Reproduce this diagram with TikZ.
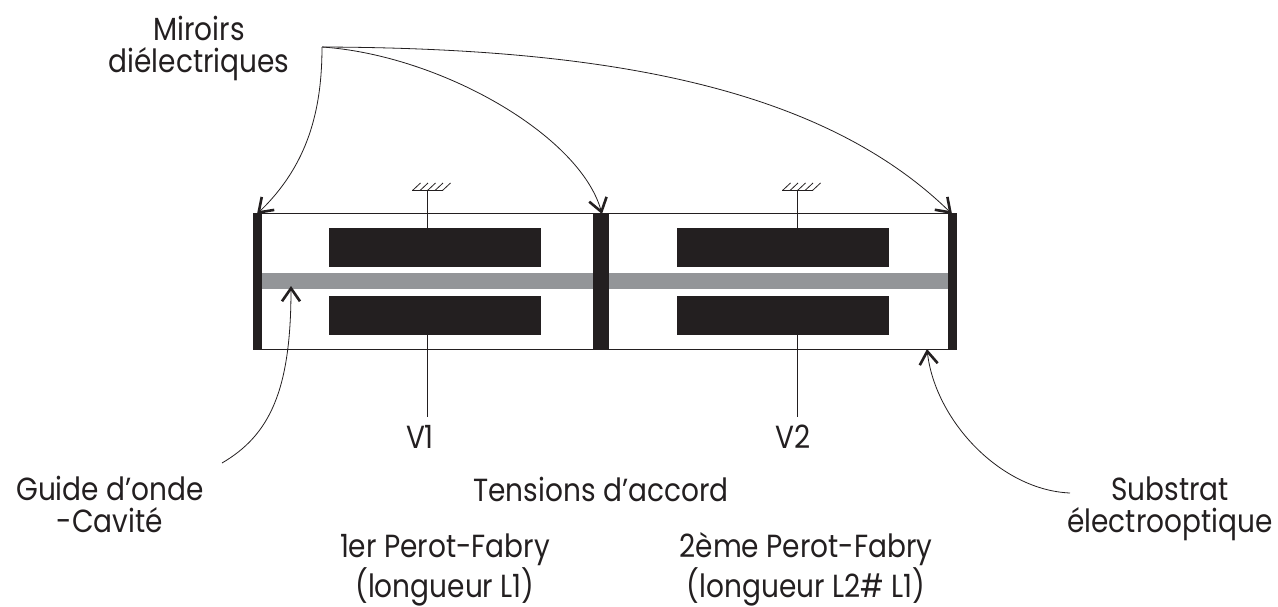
\documentclass[tikz,border=0pt]{standalone}
\usepackage{fontspec}
\setmainfont[FakeStretch=0.875]{Poppins}
\usetikzlibrary{arrows.meta}
\definecolor{ink}{HTML}{231F20}
\definecolor{guide}{HTML}{939598}
\tikzset{
 x=1pt,y=-1pt,
 txt/.style={font=\fontsize{32}{32}\selectfont,text=ink,align=center,inner sep=0pt,anchor=base},
 fillbox/.style={fill=ink,draw=none},
 thin line/.style={draw=ink,line width=0.9pt},
 call/.style={draw=ink,line width=0.8pt,-{Straight Barb[length=13pt,width=18pt,line width=2.6pt]}},
}
\newcommand{\rectnode}[6]{\node[#6,minimum width=#3pt-#1pt,minimum height=#4pt-#2pt,anchor=north west,inner sep=0pt,outer sep=0pt] (#5) at (#1,#2) {};}
\begin{document}
\begin{tikzpicture}
\useasboundingbox (0,0) rectangle (1278,606);
% substrate outline
\coordinate (tl) at (253,213); \coordinate (tr) at (957,213);
\coordinate (bl) at (253,349.5); \coordinate (br) at (957,349.5);
\draw[thin line] (tl) -- (tr);
\draw[thin line] (bl) -- (br);
% guide
\rectnode{261}{273}{594}{289}{g1}{fill=guide}
\rectnode{608}{273}{950}{289}{g2}{fill=guide}
% mirrors
\rectnode{253}{213}{262}{350}{m1}{fillbox}
\rectnode{593}{213}{609}{350}{m2}{fillbox}
\rectnode{948}{213}{957}{350}{m3}{fillbox}
% electrodes
\rectnode{329}{228}{541}{267}{e1}{fillbox}
\rectnode{329}{296}{541}{335}{e2}{fillbox}
\rectnode{677}{228}{889}{267}{e3}{fillbox}
\rectnode{677}{296}{889}{335}{e4}{fillbox}
% grounds
\coordinate (ga) at (427.5,190.5); \coordinate (gb) at (797.5,190.5);
\draw[thin line] (ga) -- (e1.north -| ga);
\draw[thin line] (gb) -- (e3.north -| gb);
\foreach \c in {ga,gb}{
 \draw[draw=ink,line width=.8pt] ([xshift=-15.5pt]\c) -- ([xshift=15.5pt]\c);
 \foreach \d in {-15,-7.5,0,7.5,15}
  \draw[draw=ink,line width=.8pt] ([xshift=\d pt]\c) -- ([xshift=\d pt+8pt,yshift=7.5pt]\c);
}
% texts
\node[txt] (mir) at (199,72) {Miroirs\\diélectriques};
\node[txt] (v1) at (420,448) {V1};
\node[txt] (v2) at (793,448) {V2};
\node[txt] (gu) at (110,532) {Guide d'onde\\-Cavité};
\node[txt] (te) at (601,501) {Tensions d'accord};
\node[txt] (su) at (1170,532) {Substrat\\électrooptique};
\node[txt] (p1) at (445,597) {1er Perot-Fabry\\(longueur L1)};
\node[txt] (p2) at (806,597) {2ème Perot-Fabry\\(longueur L2\# L1)};
% leads to voltages
\coordinate (la) at (427.5,417); \coordinate (lb) at (797.5,417);
\draw[thin line] (e2.south -| ga) -- (la);
\draw[thin line] (e4.south -| gb) -- (lb);
% callouts
\coordinate (hub) at (322,47);
\coordinate (c1) at (257,214); \coordinate (c2) at (602,214); \coordinate (c3) at (952,214);
\coordinate (c4) at (291,286); \coordinate (c5) at (927,349);
\coordinate (s4) at (222,463); \coordinate (s5) at (1070,493);
\draw[call] (hub) .. controls (322,110) and (308,165) .. (c1);
\draw[call] (hub) .. controls (440,55) and (580,135) .. (c2);
\draw[call] (hub) .. controls (600,48) and (820,85) .. (c3);
\draw[call] (s4) .. controls (270,435) and (291,390) .. (c4);
\draw[call] (s5) .. controls (1000,490) and (935,420) .. (c5);
\end{tikzpicture}
\end{document}
